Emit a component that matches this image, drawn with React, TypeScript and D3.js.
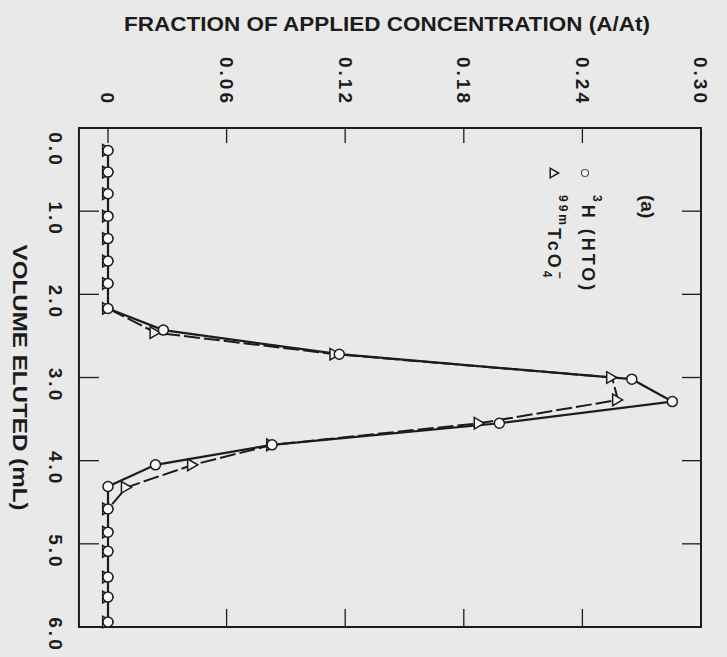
import React from 'react';
import * as d3 from 'd3';

const W = 727;
const H = 657;

const volumeTicks = [0, 1, 2, 3, 4, 5, 6];
const volumeTickLabels = ['0.0', '1.0', '2.0', '3.0', '4.0', '5.0', '6.0'];
const fractionTicks = [0, 0.06, 0.12, 0.18, 0.24, 0.3];
const fractionTickLabels = ['0', '0.06', '0.12', '0.18', '0.24', '0.30'];

// 3H (HTO) — circles
const htoVolume = [0.27, 0.53, 0.79, 1.06, 1.33, 1.6, 1.87, 2.17, 2.43, 2.72, 3.02, 3.29, 3.55, 3.81, 4.05, 4.31, 4.58, 4.86, 5.09, 5.4, 5.64, 5.94];
const htoFraction = [0, 0, 0, 0, 0, 0, 0, 0, 0.028, 0.117, 0.265, 0.2855, 0.198, 0.083, 0.024, 0, 0, 0, 0, 0, 0, 0];

// 99mTcO4- — triangles
const tcVolume = [0.27, 0.53, 0.79, 1.06, 1.33, 1.6, 1.87, 2.17, 2.46, 2.72, 3.0, 3.27, 3.55, 3.81, 4.05, 4.32, 4.58, 4.86, 5.09, 5.4, 5.64, 5.94];
const tcFraction = [0, 0, 0, 0, 0, 0, 0, 0, 0.024, 0.115, 0.255, 0.258, 0.188, 0.083, 0.043, 0.0095, 0, 0, 0, 0, 0, 0];

const BG = '#e9e9e9';
const INK = '#1c1c1c';
const FONT = '"Liberation Sans", Arial, Helvetica, sans-serif';

export default function App() {
  const y = d3.scaleLinear().domain([0, 6]).range([128, 627]);
  const x = d3.scaleLinear().domain([0, 0.3]).range([108, 701]);
  const frameLeft = x(-0.0147);
  const frameRight = x(0.3);
  const frameTop = y(0);
  const frameBottom = y(6);

  const line = d3
    .line<[number, number]>()
    .x((d) => x(d[1]))
    .y((d) => y(d[0]));

  const htoPts: [number, number][] = htoVolume.map((v, i) => [v, htoFraction[i]]);
  const tcPts: [number, number][] = tcVolume.map((v, i) => [v, tcFraction[i]]);
  const tri = d3.symbol().type(d3.symbolTriangle).size(58)();
  const triSmall = d3.symbol().type(d3.symbolTriangle).size(40)();

  return (
    <svg
      width={W}
      height={H}
      style={{ position: 'absolute', left: 0, top: 0 }}
      fontFamily={FONT}
    >
      <rect x={0} y={0} width={W} height={H} fill={BG} />

      {/* title */}
      <text
        x={387}
        y={31}
        textAnchor="middle"
        fontSize={20}
        fontWeight="bold"
        fill={INK}
        textLength={526}
        lengthAdjust="spacingAndGlyphs"
      >
        FRACTION OF APPLIED CONCENTRATION (A/At)
      </text>

      {/* fraction tick labels (rotated) */}
      {fractionTicks.map((t, i) => (
        <text
          key={'ft' + i}
          transform={`translate(${x(t)},106) rotate(90)`}
          dy="0.35em"
          textAnchor="end"
          fontSize={19}
          fontWeight="bold"
          letterSpacing={3}
          fill={INK}
        >
          {fractionTickLabels[i]}
        </text>
      ))}

      {/* volume tick labels (rotated) */}
      {volumeTicks.map((t, i) => (
        <text
          key={'vt' + i}
          transform={`translate(56,${y(t) + (i === 0 ? 22 : 8)}) rotate(90)`}
          dy="0.35em"
          textAnchor="middle"
          fontSize={19}
          fontWeight="bold"
          letterSpacing={3}
          fill={INK}
        >
          {volumeTickLabels[i]}
        </text>
      ))}

      {/* volume axis title */}
      <text
        transform={`translate(20,${(frameTop + frameBottom) / 2}) rotate(90)`}
        dy="0.35em"
        textAnchor="middle"
        fontSize={20}
        fontWeight="bold"
        fill={INK}
        textLength={266}
        lengthAdjust="spacingAndGlyphs"
      >
        VOLUME ELUTED (mL)
      </text>

      {/* frame */}
      <rect
        x={frameLeft}
        y={frameTop}
        width={frameRight - frameLeft}
        height={frameBottom - frameTop}
        fill="none"
        stroke={INK}
        strokeWidth={2}
      />

      {/* fraction ticks top & bottom */}
      {fractionTicks.slice(0, 5).map((t, i) => (
        <g key={'ftk' + i} stroke={INK} strokeWidth={1.3}>
          <line x1={x(t)} x2={x(t)} y1={frameTop} y2={frameTop + 15} />
          {i > 0 && <line x1={x(t)} x2={x(t)} y1={frameBottom} y2={frameBottom - 18} />}
        </g>
      ))}

      {/* volume ticks left & right */}
      {volumeTicks.slice(1, 6).map((t, i) => (
        <g key={'vtk' + i} stroke={INK} strokeWidth={1.3}>
          <line x1={frameLeft} x2={frameLeft + 20} y1={y(t)} y2={y(t)} />
          <line x1={frameRight} x2={frameRight - 19} y1={y(t)} y2={y(t)} />
        </g>
      ))}

      {/* TcO4 line (dashed) */}
      <path
        d={line(tcPts) || ''}
        fill="none"
        stroke={INK}
        strokeWidth={2}
        strokeDasharray="16,4"
      />
      {/* HTO line */}
      <path d={line(htoPts) || ''} fill="none" stroke={INK} strokeWidth={2.2} />

      {/* triangles */}
      {tcPts.map((d, i) => (
        <path
          key={'tr' + i}
          d={tri || ''}
          transform={`translate(${x(d[1]) - 2},${y(d[0])}) rotate(90)`}
          fill="#f4f4f4"
          stroke={INK}
          strokeWidth={1.5}
        />
      ))}
      {/* circles */}
      {htoPts.map((d, i) => (
        <circle
          key={'c' + i}
          cx={x(d[1])}
          cy={y(d[0])}
          r={5}
          fill="#f7f7f7"
          stroke={INK}
          strokeWidth={1.5}
        />
      ))}

      {/* legend */}
      <text
        transform="translate(648,195) rotate(90)"
        dy="0.35em"
        fontSize={19}
        fontWeight="bold"
        fill={INK}
      >
        (a)
      </text>
      <circle cx={585} cy={173} r={3.5} fill="#f7f7f7" stroke="#555" strokeWidth={1.2} />
      <text
        transform="translate(586,195) rotate(90)"
        dy="0.35em"
        fontSize={18}
        fontWeight="bold"
        fill={INK}
        letterSpacing={3}
      >
        <tspan fontSize={12} dy="-0.6em">3</tspan>
        <tspan dy="0.6em">H (HTO)</tspan>
      </text>
      <path
        d={triSmall || ''}
        transform="translate(553,173) rotate(90)"
        fill="none"
        stroke={INK}
        strokeWidth={1.5}
      />
      <text
        transform="translate(552,195) rotate(90)"
        dy="0.35em"
        fontSize={18}
        fontWeight="bold"
        fill={INK}
        letterSpacing={3}
      >
        <tspan fontSize={12} dy="-0.6em">99m</tspan>
        <tspan dy="0.6em">TcO</tspan>
        <tspan fontSize={12} dy="0.45em">4</tspan>
        <tspan fontSize={12} dx="-9" dy="-1.1em">−</tspan>
      </text>
    </svg>
  );
}
